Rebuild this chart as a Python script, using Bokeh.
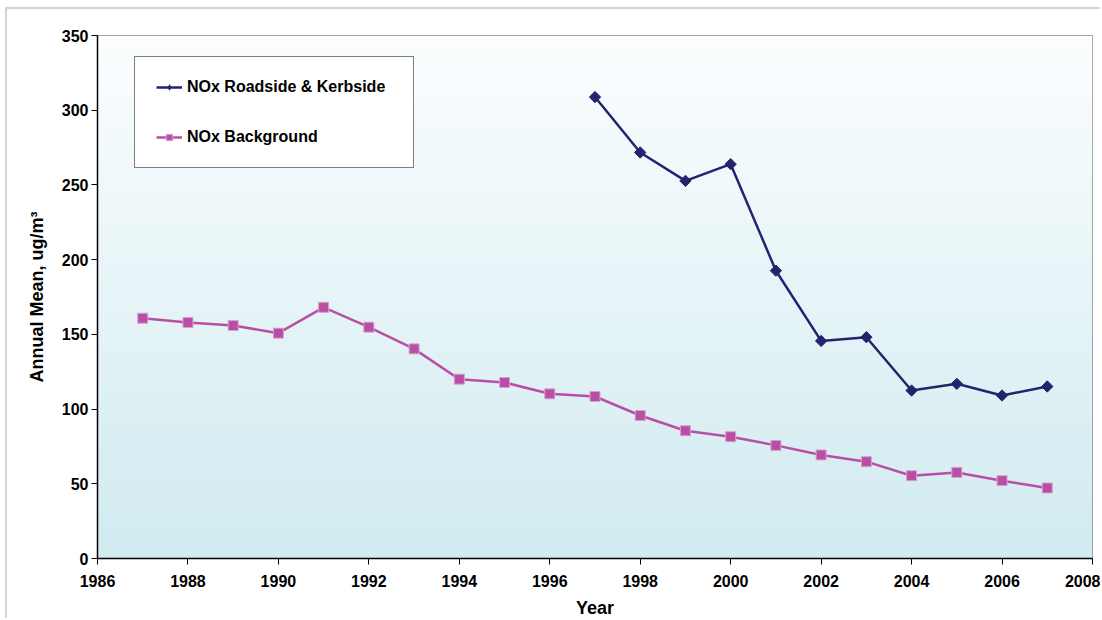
import numpy as np
from bokeh.plotting import figure
from bokeh.models import FixedTicker, Range1d, Legend, LegendItem, ColumnDataSource
from bokeh.embed import file_html
from bokeh.resources import INLINE

# ---- data ----
bg_years = [1987, 1988, 1989, 1990, 1991, 1992, 1993, 1994, 1995, 1996, 1997,
            1998, 1999, 2000, 2001, 2002, 2003, 2004, 2005, 2006, 2007]
bg_values = [160.8, 157.9, 155.9, 150.8, 168.1, 154.8, 140.3, 120.0, 117.8, 110.2, 108.4,
             95.7, 85.5, 81.5, 75.7, 69.3, 64.8, 55.4, 57.6, 52.1, 47.2]
road_years = [1997, 1998, 1999, 2000, 2001, 2002, 2003, 2004, 2005, 2006, 2007]
road_values = [308.8, 271.7, 252.7, 263.9, 192.6, 145.6, 148.1, 112.4, 116.9, 109.1, 115.1]
series_names = ["NOx Roadside & Kerbside", "NOx Background"]
x_ticks = list(range(1986, 2009, 2))
y_ticks = list(range(0, 351, 50))

X0, X1 = 1986, 2008
Y0, Y1 = 0, 350

FONT = "Liberation Sans"
NAVY = "#23236E"
MAGENTA = "#B84FA5"

p = figure(width=1095, height=611, output_backend="svg", toolbar_location=None,
           x_range=Range1d(X0, X1), y_range=Range1d(Y0, Y1),
           min_border_left=90, min_border_top=26, min_border_right=10, min_border_bottom=61)
p.margin = (7, 0, 0, 5)
p.styles = {"border-top": "2px solid #d4d4d4", "border-left": "2px solid #d4d4d4"}

p.background_fill_color = "white"
p.border_fill_color = "white"
p.outline_line_color = "#8c8c8c"
p.outline_line_width = 1
p.xgrid.visible = False
p.ygrid.visible = False

# gradient background (white at top to light blue at bottom)
n = 200
top = np.array([252, 254, 255], dtype=float)
bot = np.array([209, 235, 240], dtype=float)
t = np.linspace(0, 1, n)  # 0 = bottom row
cols = bot[None, :] * (1 - t[:, None]) + top[None, :] * t[:, None]
img = np.empty((n, 1), dtype=np.uint32)
view = img.view(dtype=np.uint8).reshape((n, 1, 4))
view[:, 0, 0] = cols[:, 0].astype(np.uint8)
view[:, 0, 1] = cols[:, 1].astype(np.uint8)
view[:, 0, 2] = cols[:, 2].astype(np.uint8)
view[:, 0, 3] = 255
p.image_rgba(image=[img], x=X0, y=Y0, dw=X1 - X0, dh=Y1 - Y0)

road_src = ColumnDataSource(dict(x=road_years, y=road_values))
bg_src = ColumnDataSource(dict(x=bg_years, y=bg_values))

# series
r_line = p.line("x", "y", source=road_src, line_color=NAVY, line_width=2.5)
p.scatter("x", "y", source=road_src, marker="square", angle=np.pi / 4, size=8,
          fill_color=NAVY, line_color=NAVY)
# zero-size diamond renderer: invisible on the plot, gives the legend its diamond glyph
r_leg = p.scatter("x", "y", source=road_src, marker="diamond", size=0,
                  fill_color=NAVY, line_color=NAVY, line_width=0)
b_line = p.line("x", "y", source=bg_src, line_color=MAGENTA, line_width=2.5)
b_pts = p.scatter("x", "y", source=bg_src, marker="square", size=10, fill_color=MAGENTA,
                  line_color="#D9A0CF", line_width=1)

# axes
for ax in (p.xaxis[0], p.yaxis[0]):
    ax.axis_line_color = "black"
    ax.axis_line_width = 1.5
    ax.major_tick_line_color = "black"
    ax.major_tick_line_width = 1
    ax.major_tick_out = 6
    ax.major_tick_in = 0
    ax.minor_tick_line_color = None
    ax.major_label_text_font = FONT
    ax.major_label_text_font_style = "bold"
    ax.major_label_text_font_size = "16px"
    ax.major_label_text_color = "black"
    ax.axis_label_text_font = FONT
    ax.axis_label_text_font_style = "bold"
    ax.axis_label_text_font_size = "18px"
    ax.axis_label_text_color = "black"

p.xaxis.ticker = FixedTicker(ticks=x_ticks)
p.yaxis.ticker = FixedTicker(ticks=y_ticks)
p.xaxis.axis_label = "Year"
p.yaxis.axis_label = "Annual Mean, ug/m³"
p.xaxis.major_label_standoff = 10
p.yaxis.major_label_standoff = 3
p.xaxis.axis_label_standoff = 8
p.yaxis.axis_label_standoff = 12

# legend
lg = Legend(items=[LegendItem(label=series_names[0], renderers=[r_line, r_leg]),
                   LegendItem(label=series_names[1], renderers=[b_line, b_pts])])
lg.location = (37, 390)
lg.border_line_color = "black"
lg.border_line_width = 1
lg.background_fill_color = "white"
lg.background_fill_alpha = 1
lg.padding = 21
lg.spacing = 32
lg.label_height = 16
lg.glyph_height = 16
lg.glyph_width = 26
lg.label_width = 205
lg.label_standoff = 5
lg.margin = 0
lg.label_text_font = FONT
lg.label_text_font_style = "bold"
lg.label_text_font_size = "16px"
lg.label_text_color = "black"
p.add_layout(lg, "center")

open("out.html", "w").write(file_html(p, INLINE))
